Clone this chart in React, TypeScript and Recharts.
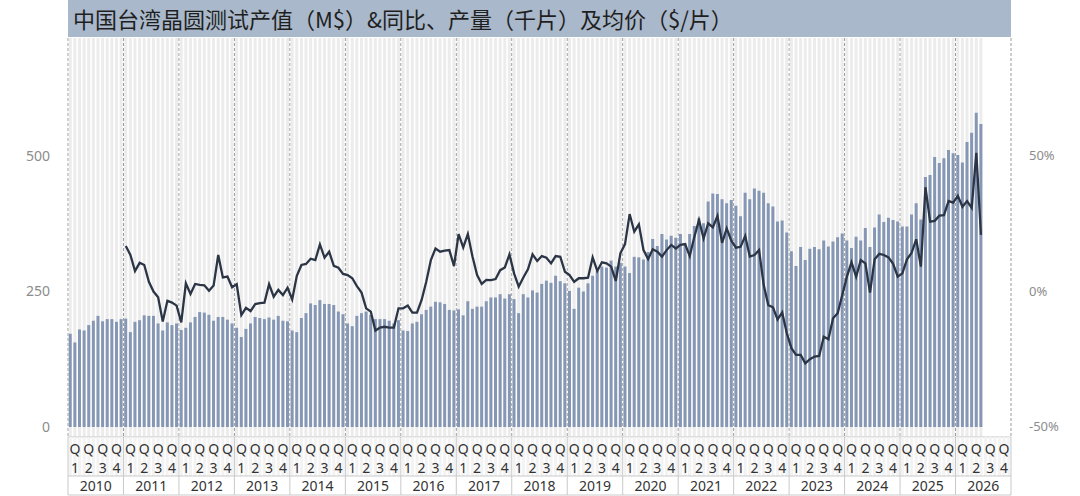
import { ComposedChart, Bar, Line, XAxis, YAxis, CartesianGrid } from "recharts";

const years = [2010, 2011, 2012, 2013, 2014, 2015, 2016, 2017, 2018, 2019, 2020, 2021, 2022, 2023, 2024, 2025, 2026];
const quarterLabels = ["1", "2", "3", "4"];
const leftTicks = [0, 250, 500];
const rightTicks = [-50, 0, 50];

// 产值 (M$), monthly from 2010-01
const output = [
  172, 156, 180, 178, 188, 196, 205, 195, 199, 199, 194, 199, // 2010
  200, 175, 194, 197, 206, 205, 205, 191, 178, 193, 188, 191, // 2011
  179, 183, 193, 203, 212, 211, 207, 196, 203, 203, 198, 191, // 2012
  183, 166, 181, 191, 203, 201, 199, 202, 198, 205, 196, 195, // 2013
  178, 175, 201, 210, 228, 225, 234, 227, 227, 225, 213, 208, // 2014
  191, 186, 205, 210, 213, 207, 199, 199, 199, 196, 191, 197, // 2015
  178, 177, 191, 194, 208, 216, 222, 231, 230, 227, 216, 215, // 2016
  217, 206, 232, 218, 222, 222, 232, 239, 239, 245, 237, 245, // 2017
  236, 210, 245, 239, 252, 248, 264, 270, 266, 279, 269, 265, // 2018
  251, 218, 257, 250, 265, 279, 288, 296, 294, 307, 296, 303, // 2019
  296, 284, 314, 313, 309, 323, 347, 334, 356, 346, 353, 349, // 2020
  356, 339, 356, 371, 385, 376, 416, 431, 430, 420, 413, 419, // 2021
  408, 389, 432, 420, 440, 436, 432, 413, 407, 379, 381, 359, // 2022
  324, 297, 332, 308, 329, 332, 328, 344, 333, 342, 350, 357, // 2023
  344, 330, 351, 344, 367, 332, 368, 392, 378, 386, 382, 379, // 2024
  370, 370, 392, 413, 383, 461, 465, 498, 487, 496, 511, 505, // 2025
  502, 488, 526, 543, 580, 559, // 2026
];

// 同比 (%), monthly from 2010-01
const yoy = [
  null, null, null, null, null, null, null, null, null, null, null, null, // 2010
  16.6, 13.3, 7.4, 10.4, 9.6, 3.4, -0.2, -2.3, -11.3, -3.6, -4.3, -5.4, // 2011
  -11.6, 2.8, -1.1, 2.6, 2.3, 2.1, 0.1, 2.0, 13.3, 5.0, 5.3, 1.4, // 2012
  2.5, -8.9, -6.2, -7.4, -4.8, -4.5, -4.3, 2.5, -2.1, 0.4, -1.5, 1.2, // 2013
  -3.1, 5.6, 9.6, 10.0, 11.9, 11.4, 17.2, 12.3, 14.5, 9.3, 8.6, 6.3, // 2014
  5.9, 4.7, 1.8, -0.6, -6.4, -7.6, -14.6, -13.5, -13.2, -13.5, -13.5, -6.4, // 2015
  -6.4, -5.4, -8.0, -8.0, -3.3, 3.4, 11.4, 15.7, 14.5, 14.9, 15.1, 9.2, // 2016
  21.0, 16.1, 21.0, 12.7, 5.9, 2.6, 4.1, 4.0, 4.4, 7.7, 8.7, 13.5, // 2017
  6.5, 1.6, 5.0, 8.0, 13.5, 11.1, 12.9, 12.3, 10.2, 12.9, 12.6, 7.1, // 2018
  5.9, 3.4, 4.7, 4.7, 4.9, 12.4, 7.4, 10.6, 10.2, 9.0, 3.7, 13.9, // 2019
  17.3, 28.4, 21.9, 24.6, 15.1, 11.8, 15.4, 14.5, 12.7, 15.1, 17.0, 15.7, // 2020
  17.0, 17.3, 12.9, 20.0, 26.2, 19.4, 25.0, 23.5, 27.7, 17.8, 23.1, 18.6, // 2021
  16.0, 16.3, 20.3, 12.7, 13.3, 15.1, 2.2, -5.2, -6.0, -10.5, -7.9, -15.6, // 2022
  -21.1, -23.6, -23.6, -26.7, -25.2, -24.2, -24.0, -16.9, -17.8, -10.1, -8.2, -1.5, // 2023
  5.3, 10.6, 5.3, 11.4, 10.2, -0.6, 11.7, 13.7, 13.3, 12.4, 10.0, 5.3, // 2024
  6.5, 11.7, 14.1, 19.1, 9.0, 38.3, 25.6, 25.9, 27.8, 28.0, 33.2, 32.6, // 2025
  35.1, 31.1, 33.2, 30.7, 51.0, 20.7, // 2026
];

const W = 1080;
const H = 496;
const LEFT_W = 68;
const RIGHT_W = 69;
const AXIS_H = 59;
const N = years.length * 12;
const bw = (W - LEFT_W - RIGHT_W) / N;

const data = years.flatMap((year, yi) =>
  Array.from({ length: 12 }, (_, m) => {
    const i = yi * 12 + m;
    return { i, year, output: output[i] ?? null, yoy: yoy[i] ?? null };
  })
);

const font = '"Noto Sans CJK SC", "Noto Sans", sans-serif';
const labelFont = '"Noto Sans", "DejaVu Sans", sans-serif';
const border = "#c9c9c9";

function MonthTick(props: any) {
  const { x, y, payload } = props;
  const i = payload.value as number;
  const m = i % 12;
  const yi = Math.floor(i / 12);
  const left = x - bw / 2;
  return (
    <g>
      <rect x={x - bw * 0.33} y={y} width={bw * 0.66} height={39} fill="#f3f3f3" />
      <line x1={left} x2={left + bw} y1={y + 39} y2={y + 39} stroke={border} />
      <line x1={left} x2={left + bw} y1={y + 58} y2={y + 58} stroke={border} />
      {i === 0 && <line x1={left} x2={left} y1={y} y2={y + 58} stroke={border} />}
      {m === 11 && <line x1={x + bw / 2} x2={x + bw / 2} y1={y} y2={y + 58} stroke={border} />}
      {m % 3 === 2 && (
        <g fontFamily={labelFont} fill="#333" textAnchor="middle" fontSize={14}>
          <text x={x - bw} y={y + 17}>Q</text>
          <text x={x - bw} y={y + 36}>{quarterLabels[Math.floor(m / 3)]}</text>
        </g>
      )}
      {m === 11 && (
        <text x={x - 5.5 * bw} y={y + 54} fontSize={14} fontFamily={labelFont} fill="#333" textAnchor="middle">
          {years[yi]}
        </text>
      )}
    </g>
  );
}

export default function App() {
  return (
    <div style={{ position: "absolute", left: 0, top: 0, width: W, height: H, background: "#fff" }}>
      <div
        style={{
          position: "absolute",
          left: LEFT_W,
          top: 0,
          width: W - LEFT_W - RIGHT_W,
          height: 37,
          background: "#a9b8ca",
          color: "#1f1f1f",
          fontFamily: font,
          fontSize: 22,
          lineHeight: "37px",
          paddingLeft: 5,
          boxSizing: "border-box",
          whiteSpace: "nowrap",
        }}
      >
        中国台湾晶圆测试产值（M$）&amp;同比、产量（千片）及均价（$/片）
      </div>
      <ComposedChart width={W} height={H} data={data} margin={{ top: 38, right: 0, bottom: 0, left: 0 }} barCategoryGap="16%">
        <CartesianGrid
          horizontal={false}
          stroke="#9a9a9a"
          strokeDasharray="3 2"
          verticalCoordinatesGenerator={({ offset }: any) =>
            years.map((_, k) => offset.left + (offset.width * k * 12) / N).concat(offset.left + offset.width)
          }
        />
        <XAxis
          dataKey="i"
          interval={0}
          height={AXIS_H}
          tickSize={0}
          tickMargin={0}
          tickLine={false}
          axisLine={{ stroke: border }}
          tick={<MonthTick />}
        />
        <YAxis
          yAxisId="left"
          width={LEFT_W}
          domain={[-18.5, 717.7]}
          allowDataOverflow
          ticks={leftTicks}
          axisLine={false}
          tickLine={false}
          tickMargin={12}
          tick={{ fontSize: 14, fill: "#8c8c8c", fontFamily: labelFont }}
        />
        <YAxis
          yAxisId="right"
          orientation="right"
          width={RIGHT_W}
          domain={[-53.9, 93.4]}
          allowDataOverflow
          ticks={rightTicks}
          axisLine={false}
          tickLine={false}
          tickMargin={12}
          tickFormatter={(v: number) => `${v}%`}
          tick={{ fontSize: 13, fill: "#8c8c8c", fontFamily: labelFont }}
        />
        <Bar
          yAxisId="left"
          dataKey="output"
          fill="#8597b4"
          background={{ fill: "#ececec" }}
          isAnimationActive={false}
        />
        <Line
          yAxisId="right"
          dataKey="yoy"
          type="linear"
          stroke="#2b3545"
          strokeWidth={2.3}
          dot={false}
          activeDot={false}
          isAnimationActive={false}
        />
      </ComposedChart>
    </div>
  );
}
